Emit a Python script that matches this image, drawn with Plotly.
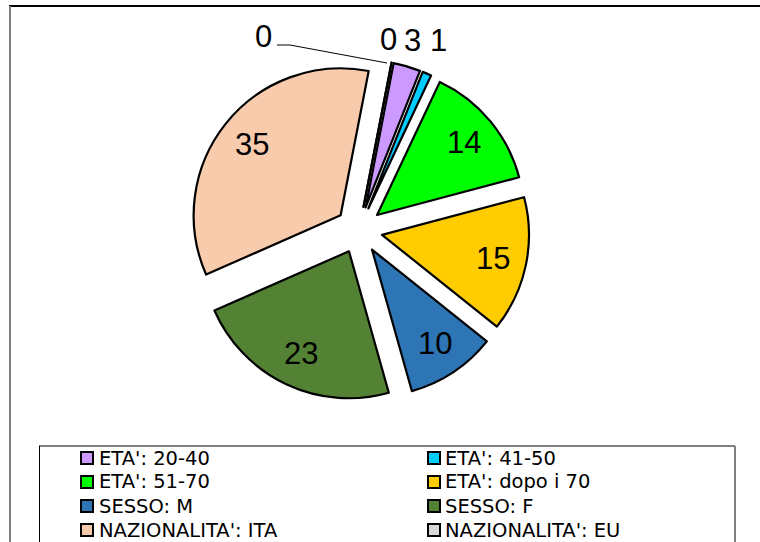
import math
import plotly.graph_objects as go

# ---- data ----
categories = ["ETA': 20-40", "ETA': 41-50", "ETA': 51-70", "ETA': dopo i 70",
              "SESSO: M", "SESSO: F", "NAZIONALITA': ITA", "NAZIONALITA': EU",
              "NAZIONALITA': EXTRA UE"]
values = [3, 1, 14, 15, 10, 23, 35, 0, 0]

# ---- styles ----
colors = ["#CC99FF", "#00CCFF", "#00FF00", "#FFCC00", "#2E75B6",
          "#548235", "#F8CBAD", "#D9D9D9", "#FFE699"]

W, H = 760, 542
ROT = 11          # start angle (deg, clockwise from 12 o'clock)
PULL = 0.16
CX, CY = 359, 230  # pie centre in pixels
HALF = 170.5       # half-size of pie domain in pixels
R = HALF / (1 + PULL)
LABEL_FONT = dict(family="Liberation Sans, Arial", size=31, color="black")

def px(x):
    return x / W

def py(y):
    return 1 - y / H

fig = go.Figure(go.Pie(
    labels=categories, values=values, sort=False, direction="clockwise",
    rotation=ROT, pull=[PULL] * len(values),
    marker=dict(colors=colors, line=dict(color="black", width=2.2)),
    textinfo="none", hoverinfo="label+value", showlegend=False,
    domain=dict(x=[px(CX - HALF), px(CX + HALF)],
                y=[py(CY + HALF), py(CY - HALF)]),
))

annotations = []
shapes = []

# data labels inside the big slices, placed along each slice's mid-angle
total = sum(values)
cum = 0
for cat, v in zip(categories, values):
    mid = math.radians(ROT + (cum + v / 2) / total * 360)
    cum += v
    if v >= 5:
        d = PULL * R + 0.77 * R
        x = CX + d * math.sin(mid)
        y = CY - d * math.cos(mid)
        annotations.append(dict(x=px(x), y=py(y), xref="paper", yref="paper",
                                text=str(v), showarrow=False, font=LABEL_FONT,
                                xanchor="center", yanchor="middle"))

# labels of the small slices (placed outside as in the original)
small_label_px = {
    "NAZIONALITA': EXTRA UE": (263, 37),
    "NAZIONALITA': EU": (388, 39),
    "ETA': 20-40": (412, 41),
    "ETA': 41-50": (438, 41),
}
for cat, v in zip(categories, values):
    if cat in small_label_px:
        x, y = small_label_px[cat]
        annotations.append(dict(x=px(x), y=py(y), xref="paper", yref="paper",
                                text=str(v), showarrow=False, font=LABEL_FONT,
                                xanchor="center", yanchor="middle"))

# leader line for the shifted zero label
shapes.append(dict(type="path", xref="paper", yref="paper",
                   path=f"M{px(277)},{py(45)} L{px(290)},{py(45)} L{px(387)},{py(63)}",
                   line=dict(color="black", width=1)))

# outer chart frame
shapes.append(dict(type="line", xref="paper", yref="paper",
                   x0=px(9), x1=px(760), y0=py(6), y1=py(6),
                   line=dict(color="black", width=2)))
shapes.append(dict(type="line", xref="paper", yref="paper",
                   x0=px(10), x1=px(10), y0=py(6), y1=py(542),
                   line=dict(color="#808080", width=2)))

# legend box
shapes.append(dict(type="line", xref="paper", yref="paper",
                   x0=px(39), x1=px(735), y0=py(446), y1=py(446),
                   line=dict(color="black", width=1)))
shapes.append(dict(type="line", xref="paper", yref="paper",
                   x0=px(39.5), x1=px(39.5), y0=py(446), y1=py(542),
                   line=dict(color="black", width=1)))
shapes.append(dict(type="line", xref="paper", yref="paper",
                   x0=px(735), x1=px(735), y0=py(446), y1=py(542),
                   line=dict(color="#808080", width=2)))

# legend entries, two columns
col_sw = [87, 434]
col_tx = [97, 443]
for i, (cat, col) in enumerate(zip(categories, colors)):
    row, c = divmod(i, 2)
    yy = 458 + 24 * row
    if yy > H:
        continue
    shapes.append(dict(type="rect", xref="paper", yref="paper",
                       x0=px(col_sw[c] - 6), x1=px(col_sw[c] + 6),
                       y0=py(yy + 6), y1=py(yy - 6),
                       fillcolor=col, line=dict(color="black", width=2)))
    annotations.append(dict(x=px(col_tx[c]), y=py(yy), xref="paper", yref="paper",
                            text=cat, showarrow=False,
                            font=dict(family="DejaVu Sans", size=19.5, color="black"),
                            xanchor="left", yanchor="middle"))

fig.update_layout(width=W, height=H, margin=dict(l=0, r=0, t=0, b=0),
                  paper_bgcolor="white", plot_bgcolor="white",
                  annotations=annotations, shapes=shapes)

fig.write_html("out.html", config={"displayModeBar": False},
               post_script="document.body.style.margin='0';document.body.style.overflow='hidden';")
